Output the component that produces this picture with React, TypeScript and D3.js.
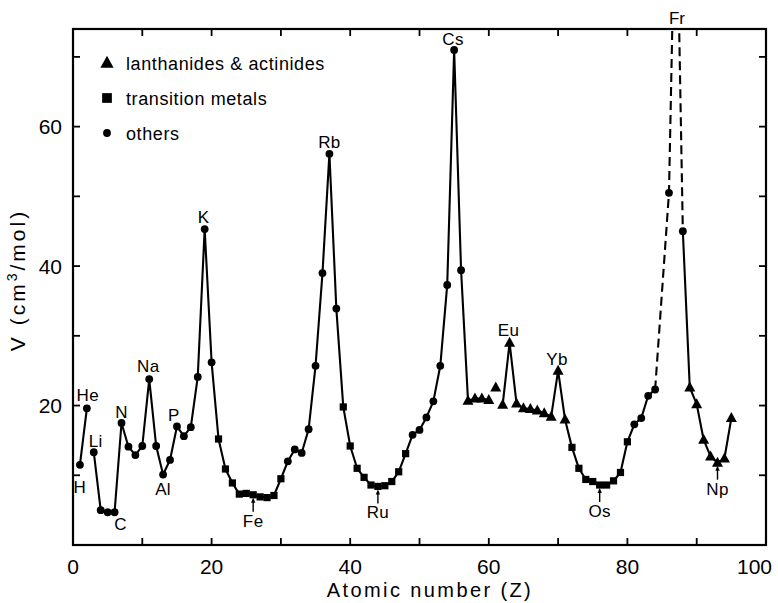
import React from "react";
import * as d3 from "d3";

// ---------- data ----------
const symbols = ["H","He","Li","Be","B","C","N","O","F","Ne","Na","Mg","Al","Si","P","S","Cl","Ar","K","Ca","Sc","Ti","V","Cr","Mn","Fe","Co","Ni","Cu","Zn","Ga","Ge","As","Se","Br","Kr","Rb","Sr","Y","Zr","Nb","Mo","Tc","Ru","Rh","Pd","Ag","Cd","In","Sn","Sb","Te","I","Xe","Cs","Ba","La","Ce","Pr","Nd","Pm","Sm","Eu","Gd","Tb","Dy","Ho","Er","Tm","Yb","Lu","Hf","Ta","W","Re","Os","Ir","Pt","Au","Hg","Tl","Pb","Bi","Po","At","Rn","Fr","Ra","Ac","Th","Pa","U","Np","Pu","Am"];

// atomic volume V (cm3/mol), index = Z-1 ; null = not plotted
const volumes: (number | null)[] = [
  11.5, 19.6, 13.3, 5.0, 4.7, 4.7, 17.5, 14.1, 12.9, 14.2,
  23.8, 14.2, 10.1, 12.2, 17.0, 15.6, 16.9, 24.1, 45.3, 26.2,
  15.2, 10.9, 8.9, 7.3, 7.4, 7.2, 6.9, 6.8, 7.1, 9.5,
  12.0, 13.7, 13.2, 16.6, 25.7, 39.0, 56.1, 33.9, 19.8, 14.2,
  11.0, 9.7, 8.6, 8.4, 8.5, 9.1, 10.5, 13.1, 15.8, 16.5,
  18.3, 20.6, 25.7, 37.3, 71.0, 39.4, 20.7, 21.0, 21.0, 20.8,
  22.6, 20.1, 29.0, 20.3, 19.6, 19.5, 19.3, 18.9, 18.4, 25.0,
  18.0, 14.0, 11.0, 9.4, 9.1, 8.6, 8.6, 9.2, 10.4, 14.8,
  17.3, 18.2, 21.4, 22.3, null, 50.5, 100, 45.0, 22.6, 20.2,
  15.1, 12.7, 11.8, 12.4, 18.2,
];

const transitionMetals = [21,22,23,24,25,26,27,28,29,30,39,40,41,42,43,44,45,46,47,48,72,73,74,75,76,77,78,79,80];
const lanthanidesActinides = [57,58,59,60,61,62,63,64,65,66,67,68,69,70,71,89,90,91,92,93,94,95];

// connected runs (Z lists)
const solidRuns: number[][] = [
  [1, 2],
  d3.range(3, 61),
  d3.range(62, 85),
  d3.range(88, 96),
];
const dashedRun = [84, 86, 87, 88];

const xTicks = [10, 20, 30, 40, 50, 60, 70, 80, 90];
const xTickLabels = [0, 20, 40, 60, 80, 100];
const yTicks = [10, 20, 30, 40, 50, 60, 70];
const yTickLabels = [20, 40, 60];

const legendItems = [
  { shape: "triangle", text: "lanthanides & actinides" },
  { shape: "square", text: "transition metals" },
  { shape: "circle", text: "others" },
];

// element annotations: dx = horizontal shift of label, dy = baseline offset from point
const plainLabels = [
  { sym: "H", dx: 0, dy: 28 },
  { sym: "He", dx: 1, dy: -7 },
  { sym: "Li", dx: 2, dy: -5 },
  { sym: "C", dx: 6, dy: 18 },
  { sym: "N", dx: 0, dy: -5 },
  { sym: "Na", dx: -1, dy: -7 },
  { sym: "Al", dx: 0, dy: 20 },
  { sym: "P", dx: -3, dy: -5 },
  { sym: "K", dx: -1, dy: -6 },
  { sym: "Rb", dx: 0, dy: -6 },
  { sym: "Cs", dx: -1, dy: -5 },
  { sym: "Eu", dx: -1, dy: -7 },
  { sym: "Yb", dx: -1, dy: -6 },
];
const arrowLabels = ["Fe", "Ru", "Os", "Np"];

// ---------- layout ----------
const W = 778;
const H = 603;
const x = d3.scaleLinear().domain([0, 100]).range([73, 766]);
const y = d3.scaleLinear().domain([0, 74]).range([545, 29]);

const FONT = "'Liberation Sans', Arial, Helvetica, sans-serif";

function category(z: number) {
  if (lanthanidesActinides.includes(z)) return "triangle";
  if (transitionMetals.includes(z)) return "square";
  return "circle";
}

function Marker({ shape, cx, cy, scale = 1 }: { shape: string; cx: number; cy: number; scale?: number }) {
  if (shape === "circle") return <circle cx={cx} cy={cy} r={3.9 * scale} fill="#000" />;
  if (shape === "square") {
    const s = 7.2 * scale;
    return <rect x={cx - s / 2} y={cy - s / 2} width={s} height={s} fill="#000" />;
  }
  const w = 11 * scale;
  const h = 10 * scale;
  return (
    <path
      d={`M${cx},${cy - h * 0.6}L${cx + w / 2},${cy + h * 0.4}L${cx - w / 2},${cy + h * 0.4}Z`}
      fill="#000"
    />
  );
}

export default function App() {
  const line = d3
    .line<number>()
    .x((z) => x(z))
    .y((z) => y(volumes[z - 1] as number));

  const points = symbols
    .map((s, i) => ({ z: i + 1, v: volumes[i], s }))
    .filter((p) => p.v !== null) as { z: number; v: number; s: string }[];

  const find = (sym: string) => {
    const i = symbols.indexOf(sym);
    return { px: x(i + 1), py: y(volumes[i] as number) };
  };

  const [x0, x1] = x.range();
  const [yb, yt] = y.range();

  return (
    <svg
      width={W}
      height={H}
      style={{ position: "absolute", left: 0, top: 0, background: "#fff" }}
      fontFamily={FONT}
    >
      <defs>
        <clipPath id="plot">
          <rect x={x0} y={yt} width={x1 - x0} height={yb - yt} />
        </clipPath>
      </defs>

      {/* frame */}
      <rect x={x0} y={yt} width={x1 - x0} height={yb - yt} fill="none" stroke="#000" strokeWidth={2.2} />

      {/* ticks */}
      {xTicks.map((t) => (
        <g key={"xt" + t} stroke="#000" strokeWidth={1.8}>
          <line x1={x(t)} x2={x(t)} y1={yb} y2={yb - 7} />
          <line x1={x(t)} x2={x(t)} y1={yt} y2={yt + 7} />
        </g>
      ))}
      {yTicks.map((t) => (
        <g key={"yt" + t} stroke="#000" strokeWidth={1.8}>
          <line x1={x0} x2={x0 + 7} y1={y(t)} y2={y(t)} />
          <line x1={x1} x2={x1 - 7} y1={y(t)} y2={y(t)} />
        </g>
      ))}

      {/* tick labels */}
      {xTickLabels.map((t) => (
        <text
          key={"xl" + t}
          x={t === 100 ? x(t) + 6 : x(t)}
          y={574}
          fontSize={21}
          textAnchor={t === 100 ? "end" : "middle"}
          fill="#000"
        >
          {t}
        </text>
      ))}
      {yTickLabels.map((t) => (
        <text key={"yl" + t} x={62} y={y(t) + 7.5} fontSize={21} textAnchor="end" fill="#000">
          {t}
        </text>
      ))}

      {/* axis titles */}
      <text x={430} y={597} fontSize={20} letterSpacing={2.4} textAnchor="middle" fill="#000">
        Atomic number (Z)
      </text>
      <text
        transform={`translate(25,${280}) rotate(-90)`}
        fontSize={21}
        letterSpacing={3}
        textAnchor="middle"
        fill="#000"
      >
        V (cm<tspan fontSize={14} dy={-8}>3</tspan>
        <tspan dy={8}>/mol)</tspan>
      </text>

      {/* data */}
      <g clipPath="url(#plot)">
        {solidRuns.map((run, i) => (
          <path key={"s" + i} d={line(run) as string} fill="none" stroke="#000" strokeWidth={2.1} strokeLinejoin="round" />
        ))}
        <path d={line(dashedRun) as string} fill="none" stroke="#000" strokeWidth={2.1} strokeDasharray="9,5" />
        {points.map((p) => (
          <Marker key={p.z} shape={category(p.z)} cx={x(p.z)} cy={y(p.v)} />
        ))}
      </g>

      {/* element labels */}
      {plainLabels.map((l) => {
        const { px, py } = find(l.sym);
        return (
          <text key={l.sym} x={px + l.dx} y={py + l.dy} fontSize={17} letterSpacing={0.4} textAnchor="middle" fill="#000">
            {l.sym}
          </text>
        );
      })}
      {arrowLabels.map((sym) => {
        const { px, py } = find(sym);
        return (
          <g key={sym}>
            <line x1={px} x2={px} y1={py + 5} y2={py + 17} stroke="#000" strokeWidth={1.4} />
            <path d={`M${px},${py + 3}L${px + 2.2},${py + 8}L${px - 2.2},${py + 8}Z`} fill="#000" />
            <text x={px} y={py + 32} fontSize={17} letterSpacing={0.4} textAnchor="middle" fill="#000">
              {sym}
            </text>
          </g>
        );
      })}
      <text x={x(87) + 1} y={yt - 5} fontSize={17} textAnchor="middle" fill="#000">
        Fr
      </text>

      {/* legend */}
      {legendItems.map((it, i) => {
        const cy = 63 + i * 35;
        return (
          <g key={it.text}>
            <Marker shape={it.shape} cx={107} cy={cy} scale={it.shape === "triangle" ? 1.2 : it.shape === "square" ? 1.35 : 1} />
            <text x={126} y={cy + 7} fontSize={18} letterSpacing={0.6} fill="#000">
              {it.text}
            </text>
          </g>
        );
      })}
    </svg>
  );
}
